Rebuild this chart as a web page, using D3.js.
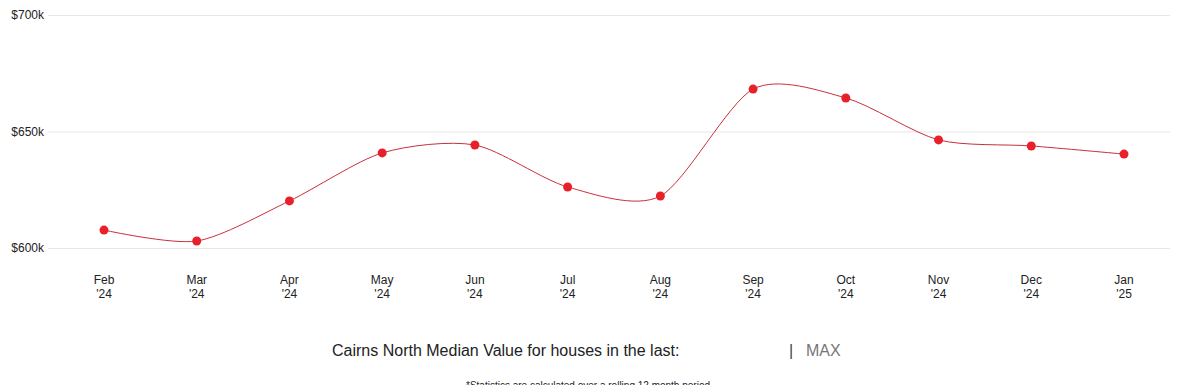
<!DOCTYPE html>
<html>
<head>
<meta charset="utf-8">
<script src="https://cdn.jsdelivr.net/npm/d3@7"></script>
<style>
  body { margin: 0; background: #fff; font-family: Arial, "Liberation Sans", sans-serif; }
  #chart { width: 1180px; height: 385px; overflow: hidden; }
</style>
</head>
<body>
<div id="chart"></div>
<script>
// data
const months = ["Feb", "Mar", "Apr", "May", "Jun", "Jul", "Aug", "Sep", "Oct", "Nov", "Dec", "Jan"];
const years = ["'24", "'24", "'24", "'24", "'24", "'24", "'24", "'24", "'24", "'24", "'24", "'25"];
const values = [607700, 603000, 620200, 640800, 644200, 626200, 622300, 668200, 664400, 646400, 643800, 640300];
const yTicks = [600000, 650000, 700000];

const width = 1180, height = 385;

const svg = d3.select("#chart").append("svg")
    .attr("width", width)
    .attr("height", height);

const x = d3.scalePoint()
    .domain(d3.range(months.length))
    .range([104, 1124]);

const y = d3.scaleLinear()
    .domain([600000, 700000])
    .range([248, 15]);

// grid
svg.append("g")
    .selectAll("line")
    .data(yTicks)
    .enter()
    .append("line")
    .attr("x1", 48)
    .attr("x2", 1170)
    .attr("y1", d => y(d) + 0.5)
    .attr("y2", d => y(d) + 0.5)
    .attr("stroke", "#e6e6e6")
    .attr("stroke-width", 1);

// y labels
svg.append("g")
    .selectAll("text")
    .data(yTicks)
    .enter()
    .append("text")
    .attr("x", 44)
    .attr("y", d => y(d) + 4)
    .attr("text-anchor", "end")
    .attr("font-size", "12px")
    .attr("fill", "#222")
    .text(d => "$" + (d / 1000) + "k");

// x labels
const xl = svg.append("g")
    .selectAll("text")
    .data(months)
    .enter()
    .append("text")
    .attr("x", (d, i) => x(i))
    .attr("y", 284)
    .attr("text-anchor", "middle")
    .attr("font-size", "12px")
    .attr("fill", "#222");
xl.append("tspan").attr("x", (d, i) => x(i)).text(d => d);
xl.append("tspan").attr("x", (d, i) => x(i)).attr("dy", 14).text((d, i) => years[i]);

// line
const line = d3.line()
    .x((d, i) => x(i))
    .y(d => y(d))
    .curve(d3.curveCardinal.tension(0.2));

svg.append("path")
    .datum(values)
    .attr("d", line)
    .attr("fill", "none")
    .attr("stroke", "#c8303a")
    .attr("stroke-width", 1);

svg.append("g")
    .selectAll("circle")
    .data(values)
    .enter()
    .append("circle")
    .attr("cx", (d, i) => x(i))
    .attr("cy", d => y(d))
    .attr("r", 4.5)
    .attr("fill", "#e8202a");

// caption
svg.append("text")
    .attr("x", 332)
    .attr("y", 356)
    .attr("font-size", "16px")
    .attr("fill", "#222")
    .text("Cairns North Median Value for houses in the last:");

svg.append("text")
    .attr("x", 789)
    .attr("y", 356)
    .attr("font-size", "16px")
    .attr("fill", "#444")
    .text("|");

svg.append("text")
    .attr("x", 806)
    .attr("y", 356)
    .attr("font-size", "16px")
    .attr("fill", "#777")
    .text("MAX");

// footnote, clipped by the bottom edge as in the original
svg.append("text")
    .attr("x", 588)
    .attr("y", 389)
    .attr("text-anchor", "middle")
    .attr("font-size", "10px")
    .attr("fill", "#222")
    .text("*Statistics are calculated over a rolling 12 month period");
</script>
</body>
</html>
